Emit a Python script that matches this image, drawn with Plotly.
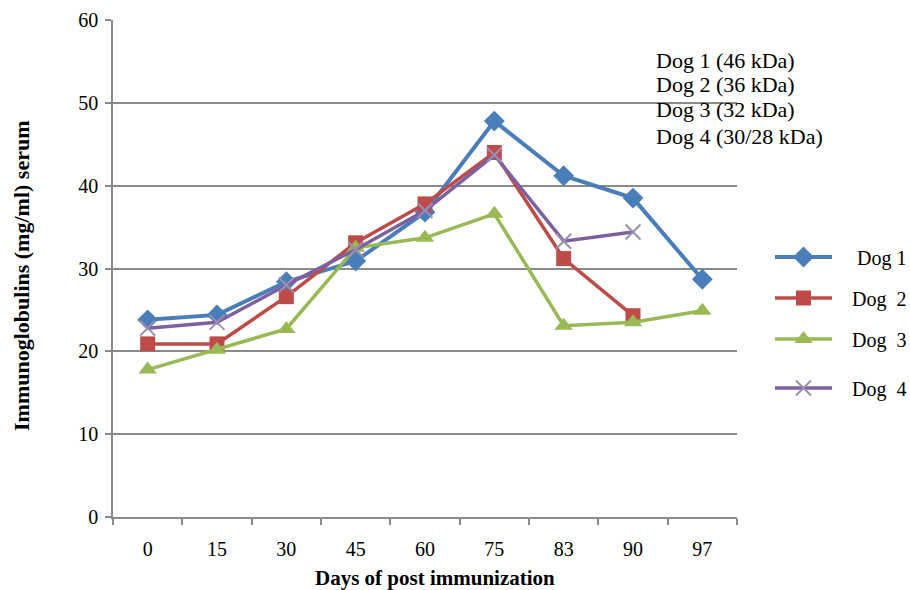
import plotly.graph_objects as go

days = ["0", "15", "30", "45", "60", "75", "83", "90", "97"]
dog1 = [23.8, 24.4, 28.4, 30.9, 36.8, 47.8, 41.2, 38.5, 28.7]
dog2 = [20.9, 20.9, 26.6, 33.1, 37.8, 44.0, 31.2, 24.3, None]
dog3 = [17.8, 20.2, 22.7, 32.5, 33.7, 36.6, 23.1, 23.5, 24.9]
dog4 = [22.8, 23.5, 28.0, 32.3, 37.0, 43.7, 33.3, 34.4, None]

NB = "\u00a0"
names = [NB * 4 + "Dog 1", NB * 3 + "Dog" + NB + " 2", NB * 3 + "Dog" + NB + " 3", NB * 3 + "Dog" + NB + " 4"]
kda_lines = ["Dog 1 (46 kDa)", "Dog 2 (36 kDa)", "Dog 3 (32 kDa)", "Dog 4 (30/28 kDa)"]
y_ticks = [0, 10, 20, 30, 40, 50, 60]

FONT = "Liberation Serif, Times New Roman, serif"
GRID = "#8a8a8a"

# body margin is removed below, so figure pixels = screen pixels
OFF = 0
W, H = 910, 590
L, R, T, B = 113 - OFF, 737 - OFF, 20 - OFF, 517 - OFF


def px_x(sx):
    return (sx - OFF - L) / (R - L)


def px_y(sy):
    return (B - (sy - OFF)) / (B - T)


styles = [
    dict(color="#4a7ebb", width=4, marker=dict(symbol="diamond", size=16, color="#4a7ebb")),
    dict(color="#be4b48", width=3.5, marker=dict(symbol="square", size=15, color="#be4b48")),
    dict(color="#98b954", width=3.5, marker=dict(symbol="triangle-up", size=16, color="#98b954")),
    dict(color="#7d60a0", width=3.5, marker=dict(symbol="x-thin", size=15, color="#9a8fb0",
                                                 line=dict(width=2, color="#9a8fb0"))),
]

fig = go.Figure()
series = [dog1, dog2, dog3, dog4]
legend_ids = ["legend", "legend2", "legend3", "legend4"]
for s, nm, st, lg in zip(series, names, styles, legend_ids):
    fig.add_trace(go.Scatter(
        x=days, y=s, name=nm, mode="lines+markers",
        line=dict(color=st["color"], width=st["width"]),
        marker=st["marker"], legend=lg, connectgaps=False,
    ))

legend_y_px = [257, 298, 339, 388]
layout_legends = {}
for lg, ypx in zip(legend_ids, legend_y_px):
    layout_legends[lg] = dict(
        x=(778 - OFF - L - 8) / (R - L), xanchor="left", xref="paper",
        y=px_y(ypx), yanchor="middle",
        font=dict(family=FONT, size=20, color="#000"),
        bgcolor="rgba(0,0,0,0)", itemwidth=57,
    )

fig.update_layout(
    width=W, height=H,
    margin=dict(l=L, r=W - R, t=T, b=H - B, autoexpand=False),
    paper_bgcolor="white", plot_bgcolor="white",
    font=dict(family=FONT, size=20, color="#000"),
    showlegend=True,
    **layout_legends,
)

fig.update_xaxes(
    type="category", tickson="boundaries",
    showgrid=False, showline=True, linecolor=GRID, linewidth=1.5,
    ticks="outside", ticklen=6, tickcolor=GRID, tickwidth=1.5,
    ticklabelstandoff=13, tickfont=dict(family=FONT, size=20),
    zeroline=False, range=[-0.5, 8.5],
)
fig.update_yaxes(
    range=[0, 60], tickvals=y_ticks, showgrid=True, gridcolor=GRID, gridwidth=1.5,
    showline=True, linecolor=GRID, linewidth=1.5,
    ticks="outside", ticklen=6, tickcolor=GRID, tickwidth=1.5,
    tickfont=dict(family=FONT, size=20), zeroline=False, ticklabelstandoff=3,
)

kda_y_px = [61, 85, 110, 136]
for txt, ypx in zip(kda_lines, kda_y_px):
    fig.add_annotation(
        text=txt, xref="paper", yref="paper",
        x=px_x(654), y=px_y(ypx),
        xanchor="left", yanchor="middle", align="left", showarrow=False,
        font=dict(family=FONT, size=22, color="#000"),
    )
fig.add_annotation(
    text="<b>Days of post immunization</b>", xref="paper", yref="paper",
    x=px_x(435), y=px_y(578),
    xanchor="center", yanchor="middle", showarrow=False,
    font=dict(family=FONT, size=21, color="#000"),
)
fig.add_annotation(
    text="<b>Immunoglobulins (mg/ml) serum</b>", xref="paper", yref="paper",
    x=px_x(21), y=px_y(276),
    xanchor="center", yanchor="middle", showarrow=False, textangle=-90,
    font=dict(family=FONT, size=22, color="#000"),
)

fig.write_html(
    "out.html",
    config={"displayModeBar": False},
    post_script="document.body.style.margin='0';document.body.style.overflow='hidden';",
)
